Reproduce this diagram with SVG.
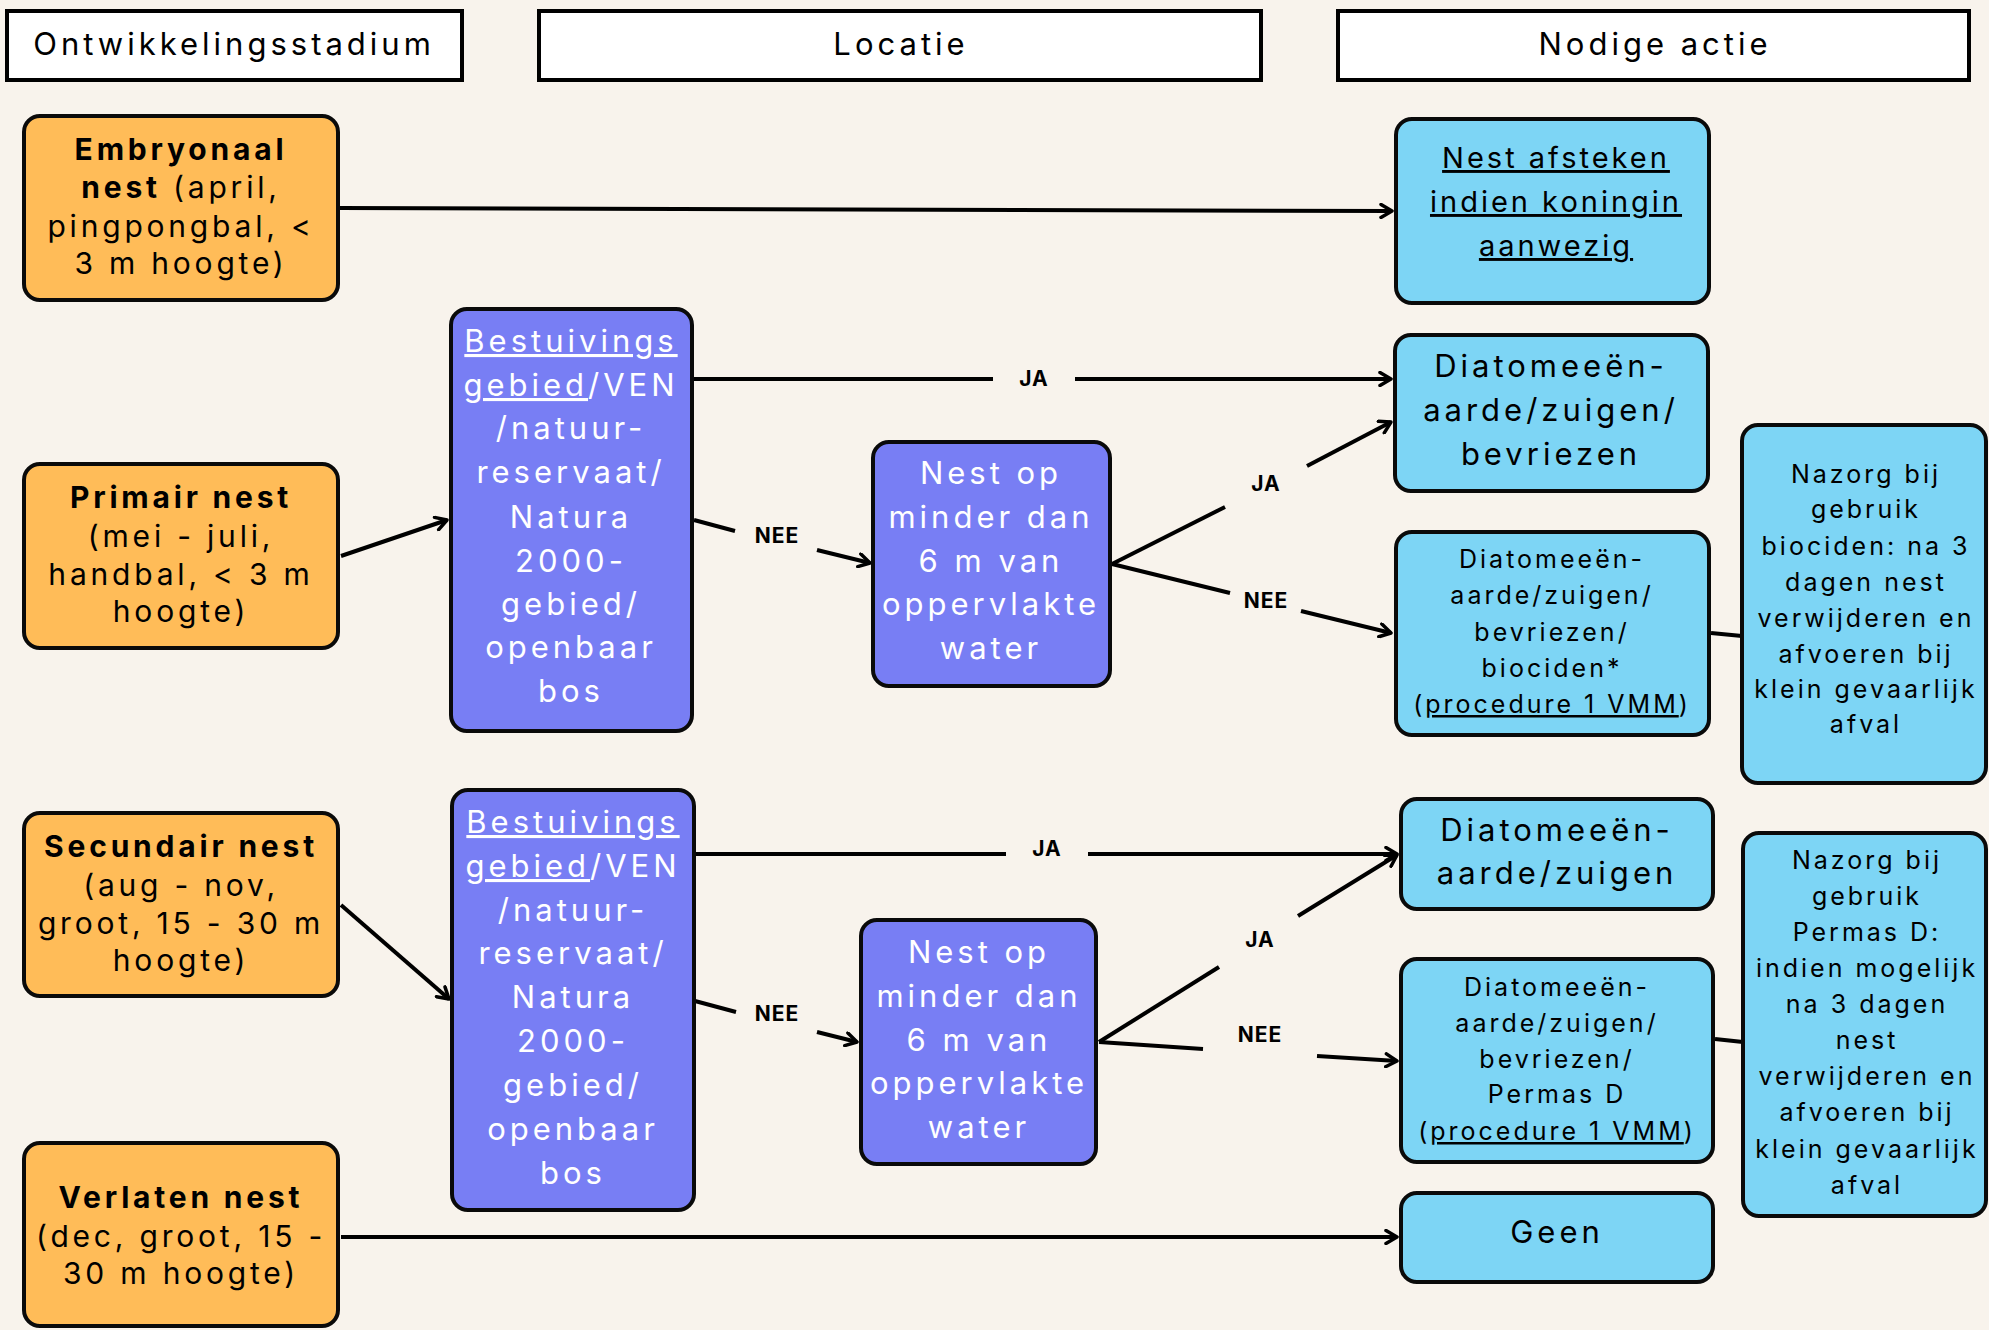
<svg xmlns="http://www.w3.org/2000/svg" width="1989" height="1330" viewBox="0 0 1989 1330">
<style>
text{font-family:Inter,"Open Sans","Liberation Sans",sans-serif;text-anchor:middle}
.hdr{font-size:31px;letter-spacing:4px;fill:#000}
.hbox{fill:#fff;stroke:#000;stroke-width:4}
.org{fill:#FFBC58;stroke:#0a0a0a;stroke-width:4}
.pur{fill:#787EF4;stroke:#0a0a0a;stroke-width:4}
.blu{fill:#7DD5F5;stroke:#0a0a0a;stroke-width:4}
.to{font-size:30px;letter-spacing:3.8px;fill:#000}
.b{font-weight:700}
.tw{font-size:31px;letter-spacing:4px;fill:#fff}
.tb{font-size:31px;letter-spacing:4px;fill:#000}
.ts{font-size:25px;letter-spacing:3px;fill:#000}
.u{text-decoration:underline}
.lbl{font-size:21px;font-weight:700;letter-spacing:1px;fill:#000}
.ln{fill:none;stroke:#000;stroke-width:4}
</style>
<defs>
<marker id="arr" markerUnits="userSpaceOnUse" viewBox="0 0 16 16" markerWidth="16" markerHeight="16" refX="13" refY="8" orient="auto">
<path d="M2,1.5 L13,8 L2,14.5" fill="none" stroke="#000" stroke-width="3.5" stroke-linecap="round" stroke-linejoin="round"/>
</marker>
</defs>
<rect width="1989" height="1330" fill="#F8F3EC"/>

<g id="header-ontwikkelingsstadium"><rect class="hbox" x="7" y="11" width="455" height="69"/><text class="hdr" x="234" y="55">Ontwikkelingsstadium</text></g>
<g id="header-locatie"><rect class="hbox" x="539" y="11" width="722" height="69"/><text class="hdr" x="901" y="55">Locatie</text></g>
<g id="header-nodige-actie"><rect class="hbox" x="1338" y="11" width="631" height="69"/><text class="hdr" x="1655" y="55">Nodige actie</text></g>

<g id="connectors">
<path class="ln" d="M340,208 L1392,211" marker-end="url(#arr)"/>
<path class="ln" d="M341,556 L447,520" marker-end="url(#arr)"/>
<path class="ln" d="M694,379 L993,379"/>
<path class="ln" d="M1075,379 L1391,379" marker-end="url(#arr)"/>
<text class="lbl" x="1034" y="386">JA</text>
<path class="ln" d="M694,520 L735,531"/>
<path class="ln" d="M817,550 L870,563" marker-end="url(#arr)"/>
<text class="lbl" x="777" y="543">NEE</text>
<path class="ln" d="M1112,564 L1225,507"/>
<path class="ln" d="M1307,466 L1391,422" marker-end="url(#arr)"/>
<text class="lbl" x="1266" y="491">JA</text>
<path class="ln" d="M1112,564 L1230,593"/>
<path class="ln" d="M1301,611 L1391,633" marker-end="url(#arr)"/>
<text class="lbl" x="1266" y="608">NEE</text>
<path class="ln" d="M341,905 L449,999" stroke-width="3.5" marker-end="url(#arr)"/>
<path class="ln" d="M695,854 L1006,854"/>
<path class="ln" d="M1088,854 L1397,854" marker-end="url(#arr)"/>
<text class="lbl" x="1047" y="856">JA</text>
<path class="ln" d="M695,1001 L736,1012"/>
<path class="ln" d="M817,1032 L857,1042" marker-end="url(#arr)"/>
<text class="lbl" x="777" y="1021">NEE</text>
<path class="ln" d="M1099,1042 L1219,967"/>
<path class="ln" d="M1298,916 L1397,855" marker-end="url(#arr)"/>
<text class="lbl" x="1260" y="947">JA</text>
<path class="ln" d="M1099,1042 L1203,1049"/>
<path class="ln" d="M1317,1056 L1397,1061" marker-end="url(#arr)"/>
<text class="lbl" x="1260" y="1042">NEE</text>
<path class="ln" d="M341,1237 L1397,1237" marker-end="url(#arr)"/>
<path class="ln" d="M1711,633 L1742,636"/>
<path class="ln" d="M1715,1039 L1743,1042"/>
</g>

<g id="embryonaal-nest"><rect class="org" x="24" y="116" width="314" height="184" rx="16"/>
<text class="to" x="181"><tspan class="b" x="181" y="160">Embryonaal</tspan><tspan x="181" y="198"><tspan class="b">nest</tspan> (april,</tspan><tspan x="181" y="237">pingpongbal, &lt;</tspan><tspan x="181" y="274">3 m hoogte)</tspan></text></g>
<g id="primair-nest"><rect class="org" x="24" y="464" width="314" height="184" rx="16"/>
<text class="to"><tspan class="b" x="181" y="508">Primair nest</tspan><tspan x="181" y="547">(mei - juli,</tspan><tspan x="181" y="585">handbal, &lt; 3 m</tspan><tspan x="181" y="622">hoogte)</tspan></text></g>
<g id="secundair-nest"><rect class="org" x="24" y="813" width="314" height="183" rx="16"/>
<text class="to"><tspan class="b" x="181" y="857">Secundair nest</tspan><tspan x="181" y="896">(aug - nov,</tspan><tspan x="181" y="934">groot, 15 - 30 m</tspan><tspan x="181" y="971">hoogte)</tspan></text></g>
<g id="verlaten-nest"><rect class="org" x="24" y="1143" width="314" height="183" rx="16"/>
<text class="to"><tspan class="b" x="181" y="1208">Verlaten nest</tspan><tspan x="181" y="1247">(dec, groot, 15 -</tspan><tspan x="181" y="1284">30 m hoogte)</tspan></text></g>

<g id="locatie-1"><rect class="pur" x="451" y="309" width="241" height="422" rx="16"/>
<text class="tw"><tspan class="u" x="571" y="352">Bestuivings</tspan><tspan x="571" y="396"><tspan class="u">gebied</tspan>/VEN</tspan><tspan x="571" y="439">/natuur-</tspan><tspan x="571" y="483">reservaat/</tspan><tspan x="571" y="528">Natura</tspan><tspan x="571" y="572">2000-</tspan><tspan x="571" y="615">gebied/</tspan><tspan x="571" y="658">openbaar</tspan><tspan x="571" y="702">bos</tspan></text></g>
<g id="water-1"><rect class="pur" x="873" y="442" width="237" height="244" rx="16"/>
<text class="tw"><tspan x="991" y="484">Nest op</tspan><tspan x="991" y="528">minder dan</tspan><tspan x="991" y="572">6 m van</tspan><tspan x="991" y="615">oppervlakte</tspan><tspan x="991" y="659">water</tspan></text></g>
<g id="locatie-2"><rect class="pur" x="452" y="790" width="242" height="420" rx="16"/>
<text class="tw"><tspan class="u" x="573" y="833">Bestuivings</tspan><tspan x="573" y="877"><tspan class="u">gebied</tspan>/VEN</tspan><tspan x="573" y="921">/natuur-</tspan><tspan x="573" y="964">reservaat/</tspan><tspan x="573" y="1008">Natura</tspan><tspan x="573" y="1052">2000-</tspan><tspan x="573" y="1096">gebied/</tspan><tspan x="573" y="1140">openbaar</tspan><tspan x="573" y="1184">bos</tspan></text></g>
<g id="water-2"><rect class="pur" x="861" y="920" width="235" height="244" rx="16"/>
<text class="tw"><tspan x="979" y="963">Nest op</tspan><tspan x="979" y="1007">minder dan</tspan><tspan x="979" y="1051">6 m van</tspan><tspan x="979" y="1094">oppervlakte</tspan><tspan x="979" y="1138">water</tspan></text></g>

<g id="nest-afsteken"><rect class="blu" x="1396" y="119" width="313" height="184" rx="16"/>
<text class="tb" style="font-size:29px;letter-spacing:3px"><tspan class="u" x="1556" y="168">Nest afsteken</tspan><tspan class="u" x="1556" y="212">indien koningin</tspan><tspan class="u" x="1556" y="256">aanwezig</tspan></text></g>
<g id="actie-diatomeeen-bevriezen"><rect class="blu" x="1395" y="335" width="313" height="156" rx="16"/>
<text class="tb"><tspan x="1551" y="377">Diatomeeën-</tspan><tspan x="1551" y="421">aarde/zuigen/</tspan><tspan x="1551" y="465">bevriezen</tspan></text></g>
<g id="actie-biociden"><rect class="blu" x="1396" y="532" width="313" height="203" rx="16"/>
<text class="ts"><tspan x="1552" y="568">Diatomeeën-</tspan><tspan x="1552" y="604">aarde/zuigen/</tspan><tspan x="1552" y="641">bevriezen/</tspan><tspan x="1552" y="677">biociden*</tspan><tspan x="1552" y="713">(<tspan class="u">procedure 1 VMM</tspan>)</tspan></text></g>
<g id="nazorg-biociden"><rect class="blu" x="1742" y="425" width="244" height="358" rx="16"/>
<text class="ts"><tspan x="1866" y="483">Nazorg bij</tspan><tspan x="1866" y="518">gebruik</tspan><tspan x="1866" y="555">biociden: na 3</tspan><tspan x="1866" y="591">dagen nest</tspan><tspan x="1866" y="627">verwijderen en</tspan><tspan x="1866" y="663">afvoeren bij</tspan><tspan x="1866" y="698">klein gevaarlijk</tspan><tspan x="1866" y="733">afval</tspan></text></g>
<g id="actie-diatomeeen-zuigen"><rect class="blu" x="1401" y="799" width="312" height="110" rx="16"/>
<text class="tb"><tspan x="1557" y="841">Diatomeeën-</tspan><tspan x="1557" y="884">aarde/zuigen</tspan></text></g>
<g id="actie-permas"><rect class="blu" x="1401" y="959" width="312" height="203" rx="16"/>
<text class="ts"><tspan x="1557" y="996">Diatomeeën-</tspan><tspan x="1557" y="1032">aarde/zuigen/</tspan><tspan x="1557" y="1068">bevriezen/</tspan><tspan x="1557" y="1103">Permas D</tspan><tspan x="1557" y="1140">(<tspan class="u">procedure 1 VMM</tspan>)</tspan></text></g>
<g id="actie-geen"><rect class="blu" x="1401" y="1193" width="312" height="89" rx="16"/>
<text class="tb" x="1557" y="1243">Geen</text></g>
<g id="nazorg-permas"><rect class="blu" x="1743" y="833" width="243" height="383" rx="16"/>
<text class="ts"><tspan x="1867" y="869">Nazorg bij</tspan><tspan x="1867" y="905">gebruik</tspan><tspan x="1867" y="941">Permas D:</tspan><tspan x="1867" y="977">indien mogelijk</tspan><tspan x="1867" y="1013">na 3 dagen</tspan><tspan x="1867" y="1049">nest</tspan><tspan x="1867" y="1085">verwijderen en</tspan><tspan x="1867" y="1121">afvoeren bij</tspan><tspan x="1867" y="1158">klein gevaarlijk</tspan><tspan x="1867" y="1194">afval</tspan></text></g>
</svg>
